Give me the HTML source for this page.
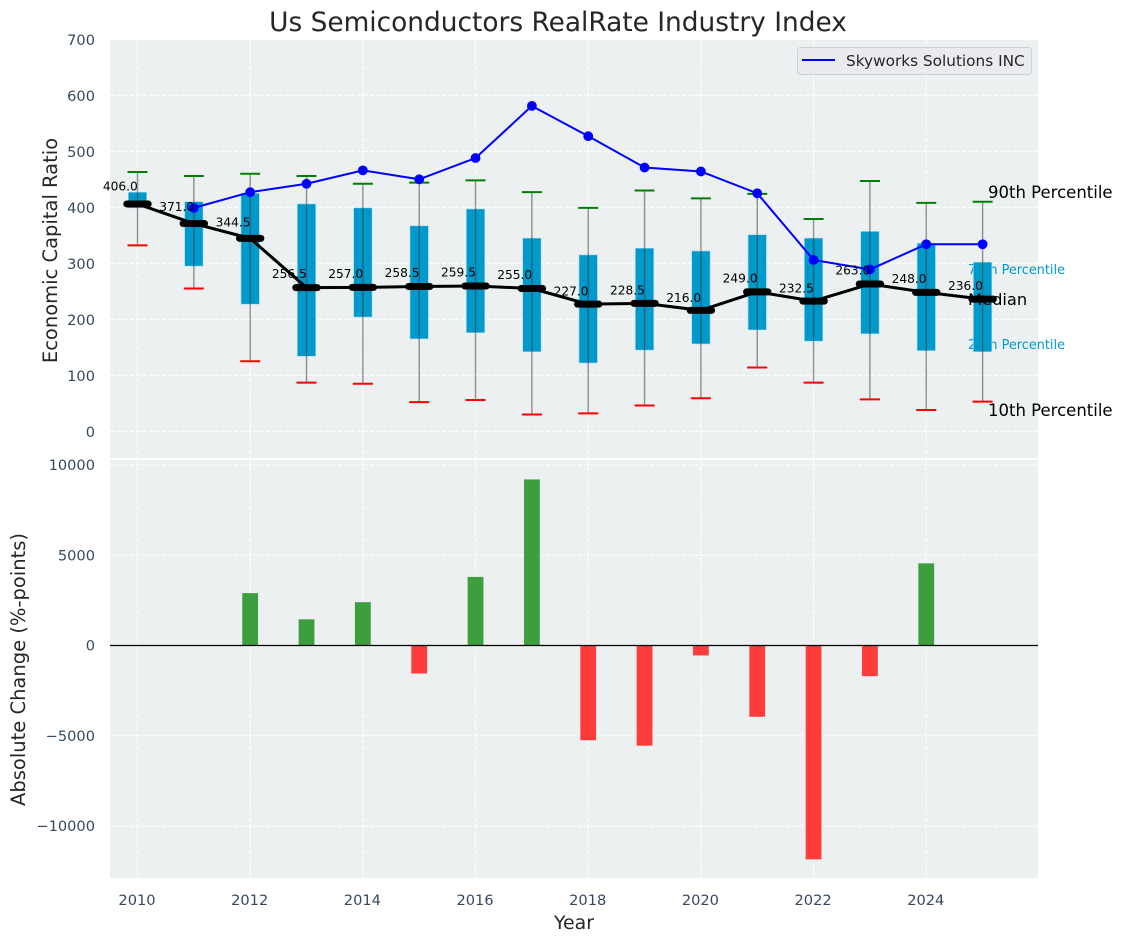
<!DOCTYPE html>
<html>
<head>
<meta charset="utf-8">
<title>Us Semiconductors RealRate Industry Index</title>
<style>
html,body{margin:0;padding:0;background:#fff;}
svg{display:block;}
text{font-family:"DejaVu Sans","Liberation Sans",sans-serif;}
</style>
</head>
<body>
<svg id="chart" xmlns="http://www.w3.org/2000/svg" width="1123" height="942" viewBox="0 0 1123 942"></svg>
<script>
const years = [2010,2011,2012,2013,2014,2015,2016,2017,2018,2019,2020,2021,2022,2023,2024,2025];
const p90 = [463,456,460,456,442,444,448,427,399,430,416,424,379,447,408,410];
const p75 = [427,410,425,406,399,367,397,345,315,327,322,351,345,357,336,302];
const medians = [406,371,344.5,256.5,257,258.5,259.5,255,227,228.5,216,249,232.5,263,248,236];
const p25 = [399,295,227,134,204,165,176,142,122,145,156,181,161,174,144,142];
const p10 = [332,255,125,87,85,52,56,30,32,46,59,114,87,57,38,53];
const company = [null,399,427,442,466,450,488,581,527,471,464,425,306,289,334,334];
const changes = [null,null,2900,1450,2400,-1550,3800,9200,-5250,-5550,-550,-3950,-11850,-1700,4550,null];
const xTicks = [2010,2012,2014,2016,2018,2020,2022,2024];
const yTicksTop = [0,100,200,300,400,500,600,700];
const yTicksBottom = [-10000,-5000,0,5000,10000];

const svg = document.getElementById('chart');
const NS = 'http://www.w3.org/2000/svg';
const plotLeft = 110, plotRight = 1038;
const topY0 = 40, topY1 = 458, botY0 = 460, botY1 = 878;

function X(year){ return 137.5 + (year - 2010) * 56.34; }
function Y(v){ return 431.3 - v * 0.56; }
function B(v){ return 645.5 - v * 0.01805; }

function el(tag, props, parent){
  const e = document.createElementNS(NS, tag);
  for (const k in props) e.setAttribute(k, props[k]);
  (parent || svg).appendChild(e);
  return e;
}
function txt(s, props, parent){
  const e = el('text', props, parent);
  e.textContent = s;
  return e;
}
function group(parent){ return el('g', {}, parent); }

/* panels */
const topPanel = el('rect', {x:plotLeft, y:topY0, width:plotRight-plotLeft, height:topY1-topY0, fill:'#ecf0f1'});


const botPanel = el('rect', {x:plotLeft, y:botY0, width:plotRight-plotLeft, height:botY1-botY0, fill:'#ecf0f1'});



/* grid */
const gridG = group();


const gridStyle = {stroke:'#ffffff', 'stroke-width':1.1, 'stroke-dasharray':'4.5 2'};
function gridLine(x1, y1, x2, y2){
  const l = el('line', {x1:x1, y1:y1, x2:x2, y2:y2}, gridG);
  for (const k in gridStyle) l.setAttribute(k, gridStyle[k]);
}
xTicks.forEach(function(t){
  gridLine(X(t), topY0, X(t), topY1);
  gridLine(X(t), botY0, X(t), botY1);
});
yTicksTop.forEach(function(t){
  if (Y(t) >= topY0) gridLine(plotLeft, Y(t), plotRight, Y(t));
});
yTicksBottom.forEach(function(t){ gridLine(plotLeft, B(t), plotRight, B(t)); });

/* tick labels */
const tickColor = '#34495e';
yTicksTop.forEach(function(t){
  const e = txt(String(t), {x:95, y:Y(t)+5.5, 'text-anchor':'end', 'font-size':14.6, fill:tickColor});
  
  
});
yTicksBottom.forEach(function(t){
  const s = t < 0 ? '\u2212' + Math.abs(t) : String(t);
  const e = txt(s, {x:95, y:B(t)+5, 'text-anchor':'end', 'font-size':14.6, fill:tickColor});
  
  
});
xTicks.forEach(function(t){
  const e = txt(String(t), {x:X(t)-0.5, y:905, 'text-anchor':'middle', 'font-size':14.6, fill:tickColor});
  
  
});

/* percentile key labels sit beneath the boxes */
const key75 = txt('75th Percentile', {x:968, y:274, 'font-size':12.85, fill:'#0099cc'});


const key25 = txt('25th Percentile', {x:968, y:349, 'font-size':12.85, fill:'#0099cc'});



/* boxes */
years.forEach(function(yr, i){
  const top = Y(p75[i]), bot = Y(p25[i]);
  const b = el('rect', {x:X(yr)-9.2, y:top, width:18.4, height:bot-top, fill:'#0099cc', stroke:'#a9dcee', 'stroke-width':0.6});
  
  
});

/* whiskers and caps */
years.forEach(function(yr, i){
  const w = el('line', {x1:X(yr), x2:X(yr), y1:Y(p90[i]), y2:Y(p10[i]), stroke:'#3c3c3c', 'stroke-opacity':0.55, 'stroke-width':1.4});
  
  
  const hi = el('line', {x1:X(yr)-10, x2:X(yr)+10, y1:Y(p90[i]), y2:Y(p90[i]), stroke:'#008000', 'stroke-width':2});
  
  
  const lo = el('line', {x1:X(yr)-10, x2:X(yr)+10, y1:Y(p10[i]), y2:Y(p10[i]), stroke:'#ff0000', 'stroke-width':2});
  
  
});

/* median line */
const medPts = years.map(function(yr, i){ return X(yr) + ',' + Y(medians[i]); }).join(' ');
const medLine = el('polyline', {points:medPts, fill:'none', stroke:'#000', 'stroke-width':3, 'stroke-linejoin':'round'});


years.forEach(function(yr, i){
  const m = el('line', {x1:X(yr)-10.7, x2:X(yr)+10.7, y1:Y(medians[i]), y2:Y(medians[i]), stroke:'#000', 'stroke-width':7, 'stroke-linecap':'round'});
  
  
});

/* company line */
const compPts = [];
years.forEach(function(yr, i){
  if (company[i] !== null) compPts.push(X(yr) + ',' + Y(company[i]));
});
const compLine = el('polyline', {points:compPts.join(' '), fill:'none', stroke:'#0000ff', 'stroke-width':2});


years.forEach(function(yr, i){
  if (company[i] === null) return;
  const c = el('circle', {cx:X(yr), cy:Y(company[i]), r:4.9, fill:'#0000ff'});
  
  
});

/* median value labels, placed 5% above the median value */
years.forEach(function(yr, i){
  const t = txt(medians[i].toFixed(1), {x:X(yr)+0.3, y:Y(medians[i]*1.05)-2.3, 'text-anchor':'end', 'font-size':12.2, fill:'#000'});
  
  
});

/* right-hand key labels */
const key90 = txt('90th Percentile', {x:988, y:198, 'font-size':16.5, fill:'#000'});


const key10 = txt('10th Percentile', {x:988, y:416, 'font-size':16.5, fill:'#000'});


const keyMed = txt('Median', {x:968, y:305, 'font-size':16.3, fill:'#000'});



/* change bars */
years.forEach(function(yr, i){
  const v = changes[i];
  if (v === null) return;
  const y0 = B(0), y1 = B(v);
  const r = el('rect', {x:X(yr)-7.9, y:Math.min(y0,y1), width:15.8, height:Math.abs(y1-y0), fill:v >= 0 ? '#3c9e3c' : '#ff3c3c'});
  
  
});
const zeroLine = el('line', {x1:plotLeft, x2:plotRight, y1:B(0), y2:B(0), stroke:'#000', 'stroke-width':1.2});



/* legend */
const legend = group();


const legendBox = el('rect', {x:797.5, y:47.5, width:234, height:27, rx:3, fill:'#e9ebf0', stroke:'#d0d0d4', 'stroke-width':1}, legend);


const legendLine = el('line', {x1:802, x2:835, y1:60, y2:60, stroke:'#0000ff', 'stroke-width':2}, legend);


const legendText = txt('Skyworks Solutions INC', {x:846, y:66, 'font-size':15.3, fill:'#262626'}, legend);



/* titles */
const title = txt('Us Semiconductors RealRate Industry Index', {x:558, y:31, 'text-anchor':'middle', 'font-size':26.4, fill:'#262626'});


const xTitle = txt('Year', {x:574, y:929, 'text-anchor':'middle', 'font-size':18.9, fill:'#262626'});


const yTop = txt('Economic Capital Ratio', {x:0, y:0, transform:'translate(57,250.5) rotate(-90)', 'text-anchor':'middle', 'font-size':19.5, fill:'#262626'});


const yBot = txt('Absolute Change (%-points)', {x:0, y:0, transform:'translate(25,669.5) rotate(-90)', 'text-anchor':'middle', 'font-size':19.5, fill:'#262626'});


</script>
</body>
</html>
